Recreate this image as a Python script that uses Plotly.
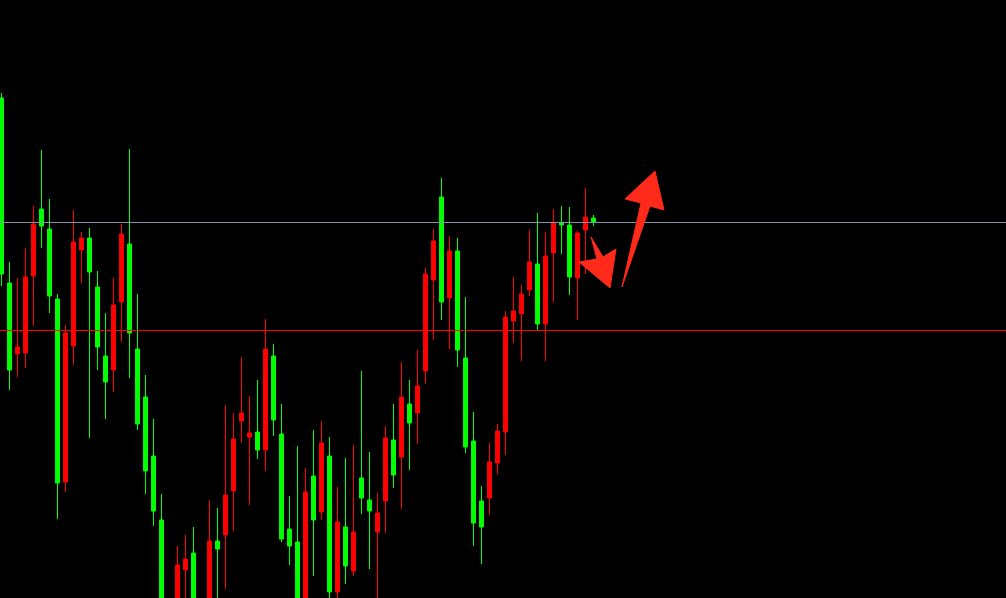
import plotly.graph_objects as go

# Candle index (bar number) and OHLC prices in points
bars = list(range(75))
open_ = [502, 317, 246, 247, 324, 391, 371, 301, 118, 254,
         350, 362, 313, 244, 230, 298, 356, 251, 203, 144,
         80, -20, -50, 30, 47, -10, -30, 59, 65, 109,
         179, 163, 168, 150, 244, 166, 71, 58, -15, 124,
         88, 144, 8, 73, 29, 122, 100, 68, 99, 160,
         143, 196, 187, 229, 320, 403, 302, 349, 242, 159,
         99, 102, 137, 168, 279, 286, 310, 336, 276, 347,
         377, 375, 322, 370, 382]
high = [507, 338, 322, 352, 394, 450, 401, 306, 275, 390,
        368, 372, 329, 287, 322, 376, 451, 306, 225, 181,
        106, -5, 54, 65, 73, -2, 100, 92, 195, 187,
        243, 204, 220, 281, 256, 196, 104, 154, 132, 170,
        179, 163, 113, 142, 155, 229, 148, 107, 174, 196,
        238, 220, 250, 332, 371, 422, 364, 362, 303, 188,
        114, 157, 176, 289, 323, 315, 370, 387, 368, 391,
        394, 393, 369, 412, 385]
low = [314, 210, 223, 232, 274, 352, 287, 81, 108, 235,
       317, 162, 230, 181, 208, 258, 222, 170, 106, 74,
       -35, -75, -60, -5, -25, -45, -40, -3, 11, 69,
       157, 95, 141, 129, 164, 58, 35, -25, -25, 24,
       80, -5, -5, 16, 24, 86, 31, -3, 67, 112,
       91, 130, 156, 216, 260, 280, 251, 233, 147, 54,
       36, 85, 126, 145, 257, 239, 304, 270, 239, 298,
       346, 305, 280, 326, 374]
close = [326, 230, 253, 323, 376, 374, 304, 117, 267, 358,
         362, 328, 253, 218, 295, 366, 267, 176, 129, 89,
         -20, -55, 35, 41, -10, -35, 59, 51, 105, 161,
         187, 167, 150, 251, 180, 61, 54, -15, 108, 80,
         157, 8, 78, 34, 68, 102, 89, 87, 162, 125,
         203, 177, 214, 326, 359, 298, 349, 250, 153, 77,
         73, 138, 169, 283, 289, 306, 338, 276, 344, 377,
         375, 323, 367, 383, 378]

# Horizontal levels
level_grey = 377.5
level_red = 269.5

W, H = 1006, 598

fig = go.Figure()
fig.add_trace(go.Candlestick(
    x=bars, open=open_, high=high, low=low, close=close,
    increasing=dict(line=dict(color="#ff0000", width=1), fillcolor="#ff0000"),
    decreasing=dict(line=dict(color="#00ff00", width=1), fillcolor="#00ff00"),
    whiskerwidth=0,
    hoverinfo="none",
))

fig.add_hline(y=level_grey, line=dict(color="#8393a8", width=1))
fig.add_hline(y=level_red, line=dict(color="#ff0000", width=1))


def pix_path(points):
    parts = []
    for i, (px, py) in enumerate(points):
        xp = px / W
        yp = 1 - py / H
        parts.append(("M" if i == 0 else "L") + f"{xp:.5f},{yp:.5f}")
    return " ".join(parts) + " Z"


arrow_up = [(622, 287), (641, 203), (625, 199), (655, 171), (664, 210), (650, 206)]
arrow_down = [(591, 237), (603, 257), (616, 249), (610, 288), (579, 262), (597, 259)]
for pts in (arrow_up, arrow_down):
    fig.add_shape(type="path", path=pix_path(pts), xref="paper", yref="paper",
                  fillcolor="#ff2a1a", line=dict(color="#ff2a1a", width=1))

fig.update_layout(
    width=W, height=H,
    margin=dict(l=0, r=0, t=0, b=0),
    paper_bgcolor="#000000", plot_bgcolor="#000000",
    showlegend=False,
    boxgap=0.3,
    xaxis=dict(range=[-0.1875, -0.1875 + W / 8], visible=False,
               rangeslider=dict(visible=False), fixedrange=True),
    yaxis=dict(range=[2, 600], visible=False, fixedrange=True),
)

fig.write_html(
    "out.html",
    config={"displayModeBar": False},
    post_script="document.body.style.margin='0';document.body.style.background='#000';"
                "document.documentElement.style.background='#000';",
)
